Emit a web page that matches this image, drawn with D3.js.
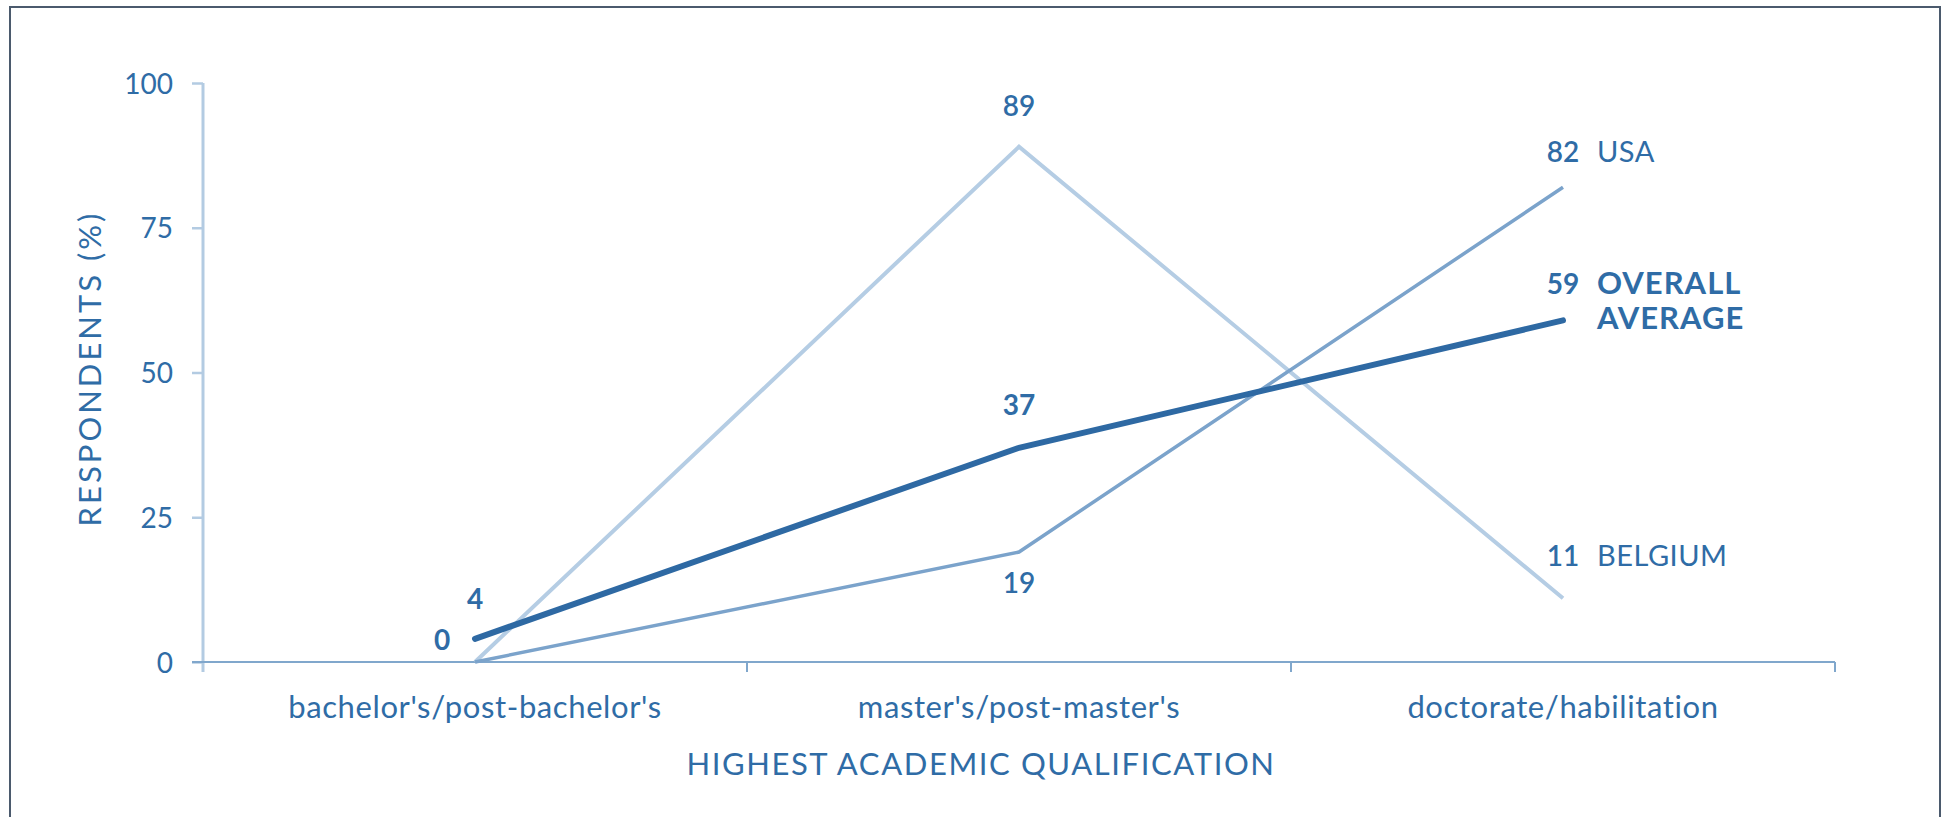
<!DOCTYPE html>
<html>
<head>
<meta charset="utf-8">
<script src="https://cdn.jsdelivr.net/npm/d3@7/dist/d3.min.js"></script>
<style>
  html, body { margin: 0; padding: 0; background: #ffffff; }
  svg { display: block; }
  text { font-family: Lato, "Open Sans", sans-serif; fill: #2f6ca6; }
</style>
</head>
<body>
<svg id="chart" width="1952" height="817"></svg>
<script>
// ---- data ----
const categories = ["bachelor's/post-bachelor's", "master's/post-master's", "doctorate/habilitation"];
const belgium = [0, 89, 11];
const usa = [0, 19, 82];
const overall = [4, 37, 59];
const yTicks = [0, 25, 50, 75, 100];
const xTitle = "HIGHEST ACADEMIC QUALIFICATION";
const yTitle = "RESPONDENTS (%)";

(function () {
// ---- layout ----
const svg = d3.select("#chart");
const pLeft = 203, pRight = 1835, pTop = 83, pBottom = 662;

svg.append("rect")
  .attr("x", 10).attr("y", 7).attr("width", 1930).attr("height", 840)
  .attr("fill", "none").attr("stroke", "#4b5a6d").attr("stroke-width", 2);

const x = d3.scaleBand().domain(categories).range([pLeft, pRight]).padding(0);
const y = d3.scaleLinear().domain([0, 100]).range([pBottom, pTop]);
const cx = c => x(c) + x.bandwidth() / 2;

// y axis
const yAxis = d3.axisLeft(y).tickValues(yTicks).tickSize(11).tickPadding(19).tickFormat(d3.format("d"));
const gy = svg.append("g").attr("transform", `translate(${pLeft},0)`).call(yAxis);
gy.select(".domain").remove();
gy.selectAll(".tick line").attr("stroke", "#b3cbe2").attr("stroke-width", 2.5);
gy.selectAll(".tick text").attr("font-size", 28).attr("fill", "#2f6ca6").attr("dy", "0.36em")
  .style("font-family", "Lato, sans-serif");
svg.append("line").attr("x1", pLeft).attr("x2", pLeft).attr("y1", pTop).attr("y2", pBottom + 10)
  .attr("stroke", "#b3cbe2").attr("stroke-width", 3);

// x axis
const xAxis = d3.axisBottom(x).tickSize(0).tickPadding(34);
const gx = svg.append("g").attr("transform", `translate(0,${pBottom})`).call(xAxis);
gx.select(".domain").remove();
gx.selectAll(".tick text").attr("font-size", 31).attr("letter-spacing", 0.6).attr("fill", "#2f6ca6")
  .style("font-family", "Lato, sans-serif");
svg.append("line").attr("x1", pLeft - 11).attr("x2", pRight).attr("y1", pBottom).attr("y2", pBottom)
  .attr("stroke", "#80a7cc").attr("stroke-width", 2);
const edges = categories.slice(1).map(c => x(c)).concat([x(categories[categories.length - 1]) + x.bandwidth()]);
svg.selectAll(".edgeTick").data(edges).enter().append("line")
  .attr("x1", d => d).attr("x2", d => d).attr("y1", pBottom).attr("y2", pBottom + 10)
  .attr("stroke", "#80a7cc").attr("stroke-width", 2);

// axis titles
svg.append("text").attr("x", (pLeft + pRight) / 2 - 38).attr("y", 775)
  .attr("text-anchor", "middle").attr("font-size", 31).attr("letter-spacing", 1.6).text(xTitle);
svg.append("text").attr("transform", `translate(101,${(pTop + pBottom) / 2 - 4}) rotate(-90)`)
  .attr("text-anchor", "middle").attr("font-size", 31).attr("letter-spacing", 3).text(yTitle);

// lines
const line = d3.line().x((d, i) => cx(categories[i])).y(d => y(d));
svg.append("path").datum(belgium).attr("d", line).attr("fill", "none")
  .attr("stroke", "#b5cde4").attr("stroke-width", 4).attr("stroke-linejoin", "miter");
svg.append("path").datum(usa).attr("d", line).attr("fill", "none")
  .attr("stroke", "#7ba3cb").attr("stroke-width", 3.5);
svg.append("path").datum(overall).attr("d", line).attr("fill", "none")
  .attr("stroke", "#2e69a3").attr("stroke-width", 6).attr("stroke-linecap", "round");

// value labels
function lab(xp, yp, txt, w, anchor) {
  svg.append("text").attr("x", xp).attr("y", yp).attr("text-anchor", anchor || "middle")
    .attr("font-size", 28).attr("font-weight", w).text(txt);
}
// bachelor's
lab(cx(categories[0]) - 33, y(overall[0]) + 11, String(belgium[0]), 700);
lab(cx(categories[0]), y(overall[0]) - 30, String(overall[0]), 700);
// master's
lab(cx(categories[1]), y(belgium[1]) - 31, String(belgium[1]), 600);
lab(cx(categories[1]), y(overall[1]) - 33, String(overall[1]), 700);
lab(cx(categories[1]), y(usa[1]) + 41, String(usa[1]), 600);
// doctorate
lab(cx(categories[2]), y(usa[2]) - 25, String(usa[2]), 600);
lab(cx(categories[2]), y(overall[2]) - 26, String(overall[2]), 700);
lab(cx(categories[2]), y(belgium[2]) - 32, String(belgium[2]), 600);

// series names
const nx = cx(categories[2]) + 34;
svg.append("text").attr("x", nx).attr("y", y(usa[2]) - 25).attr("font-size", 29).attr("letter-spacing", 0.5).text("USA");
svg.append("text").attr("x", nx).attr("y", y(overall[2]) - 26).attr("font-size", 31)
  .attr("font-weight", 700).attr("letter-spacing", 1).text("OVERALL");
svg.append("text").attr("x", nx).attr("y", y(overall[2]) + 9).attr("font-size", 31)
  .attr("font-weight", 700).attr("letter-spacing", 1).text("AVERAGE");
svg.append("text").attr("x", nx).attr("y", y(belgium[2]) - 32).attr("font-size", 29).attr("letter-spacing", 0.5).text("BELGIUM");
})();
</script>
</body>
</html>
